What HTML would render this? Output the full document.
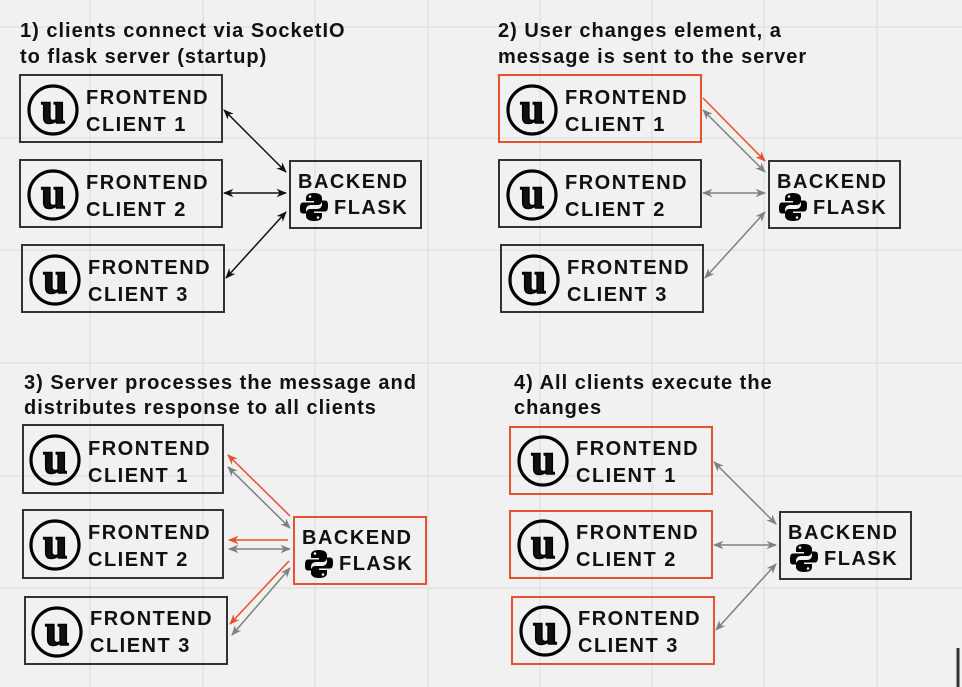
<!DOCTYPE html>
<html><head><meta charset="utf-8"><style>
html,body{margin:0;padding:0;background:#f1f1f1;}
svg{display:block;}
text{font-family:"Liberation Sans",sans-serif;font-weight:bold;}
.t{letter-spacing:1px;}
.b{letter-spacing:1.5px;}
</style></head><body>
<svg width="962" height="687" viewBox="0 0 962 687" xmlns="http://www.w3.org/2000/svg">
<defs>
<marker id="ak" viewBox="0 0 10 10" refX="9" refY="5" markerWidth="7" markerHeight="7" orient="auto-start-reverse"><path d="M0,1 L10,5 L0,9 L3,5z" fill="#111"/></marker>
<marker id="ag" viewBox="0 0 10 10" refX="9" refY="5" markerWidth="7" markerHeight="7" orient="auto-start-reverse"><path d="M0,1 L10,5 L0,9 L3,5z" fill="#808080"/></marker>
<marker id="ar" viewBox="0 0 10 10" refX="9" refY="5" markerWidth="7" markerHeight="7" orient="auto-start-reverse"><path d="M0,1 L10,5 L0,9 L3,5z" fill="#e8502e"/></marker>
<g id="ue">
<circle cx="0" cy="0" r="24" fill="none" stroke="#000" stroke-width="3.2"/>
<text x="1" y="13" text-anchor="middle" font-size="44" stroke="#000" stroke-width="1.5" style="font-family:'Liberation Serif',serif">u</text>
</g>
<g id="py">
<path d="M14,0 c-6,0 -8,2 -8,5 v3 h8 v1.5 H3 c-3,0 -3,4 -3,6 s0,5 3,5 h3 v-3.5 c0,-3 2,-5 5,-5 h7 c2,0 4,-2 4,-4 V5 c0,-3 -3,-5 -8,-5z" fill="#000"/>
<path d="M14,0 c-6,0 -8,2 -8,5 v3 h8 v1.5 H3 c-3,0 -3,4 -3,6 s0,5 3,5 h3 v-3.5 c0,-3 2,-5 5,-5 h7 c2,0 4,-2 4,-4 V5 c0,-3 -3,-5 -8,-5z" fill="#000" transform="rotate(180 14 14)"/>
<circle cx="10" cy="3.5" r="1.3" fill="#f1f1f1"/><circle cx="18" cy="24.5" r="1.3" fill="#f1f1f1"/>
</g>
</defs>
<g stroke="#dcdcdc" stroke-width="1">
<line x1="90" y1="0" x2="90" y2="687"/><line x1="203" y1="0" x2="203" y2="687"/><line x1="315" y1="0" x2="315" y2="687"/><line x1="428" y1="0" x2="428" y2="687"/><line x1="540" y1="0" x2="540" y2="687"/><line x1="652" y1="0" x2="652" y2="687"/><line x1="764" y1="0" x2="764" y2="687"/><line x1="877" y1="0" x2="877" y2="687"/>
<line x1="0" y1="27" x2="962" y2="27"/><line x1="0" y1="138" x2="962" y2="138"/><line x1="0" y1="250" x2="962" y2="250"/><line x1="0" y1="363" x2="962" y2="363"/><line x1="0" y1="476" x2="962" y2="476"/><line x1="0" y1="588" x2="962" y2="588"/>
</g>
<line x1="958" y1="648" x2="958" y2="687" stroke="#333" stroke-width="3"/>

<g font-size="20" fill="#111" class="t">
<text x="20" y="37">1) clients connect via SocketIO</text><text x="20" y="63">to flask server (startup)</text>
<text x="498" y="37">2) User changes element, a</text><text x="498" y="63">message is sent to the server</text>
<text x="24" y="389">3) Server processes the message and</text><text x="24" y="414">distributes response to all clients</text>
<text x="514" y="389">4) All clients execute the</text><text x="514" y="414">changes</text>
</g>

<g font-size="20" fill="#111" stroke-width="2" class="b">
<rect x="20" y="75" width="202" height="67" fill="none" stroke="#333"/><use href="#ue" x="53" y="110"/><text x="86" y="104">FRONTEND</text><text x="86" y="131">CLIENT 1</text>
<rect x="20" y="160" width="202" height="67" fill="none" stroke="#333"/><use href="#ue" x="53" y="195"/><text x="86" y="189">FRONTEND</text><text x="86" y="216">CLIENT 2</text>
<rect x="22" y="245" width="202" height="67" fill="none" stroke="#333"/><use href="#ue" x="55" y="280"/><text x="88" y="274">FRONTEND</text><text x="88" y="301">CLIENT 3</text>
<rect x="290" y="161" width="131" height="67" fill="none" stroke="#333"/><text x="298" y="188">BACKEND</text><use href="#py" x="300" y="193"/><text x="334" y="214">FLASK</text>

<rect x="499" y="75" width="202" height="67" fill="none" stroke="#e8502e"/><use href="#ue" x="532" y="110"/><text x="565" y="104">FRONTEND</text><text x="565" y="131">CLIENT 1</text>
<rect x="499" y="160" width="202" height="67" fill="none" stroke="#333"/><use href="#ue" x="532" y="195"/><text x="565" y="189">FRONTEND</text><text x="565" y="216">CLIENT 2</text>
<rect x="501" y="245" width="202" height="67" fill="none" stroke="#333"/><use href="#ue" x="534" y="280"/><text x="567" y="274">FRONTEND</text><text x="567" y="301">CLIENT 3</text>
<rect x="769" y="161" width="131" height="67" fill="none" stroke="#333"/><text x="777" y="188">BACKEND</text><use href="#py" x="779" y="193"/><text x="813" y="214">FLASK</text>

<rect x="23" y="425" width="200" height="68" fill="none" stroke="#333"/><use href="#ue" x="55" y="460"/><text x="88" y="455">FRONTEND</text><text x="88" y="482">CLIENT 1</text>
<rect x="23" y="510" width="200" height="68" fill="none" stroke="#333"/><use href="#ue" x="55" y="545"/><text x="88" y="539">FRONTEND</text><text x="88" y="566">CLIENT 2</text>
<rect x="25" y="597" width="202" height="67" fill="none" stroke="#333"/><use href="#ue" x="57" y="632"/><text x="90" y="625">FRONTEND</text><text x="90" y="652">CLIENT 3</text>
<rect x="294" y="517" width="132" height="67" fill="none" stroke="#e8502e"/><text x="302" y="544">BACKEND</text><use href="#py" x="305" y="550"/><text x="339" y="570">FLASK</text>

<rect x="510" y="427" width="202" height="67" fill="none" stroke="#e8502e"/><use href="#ue" x="543" y="461"/><text x="576" y="455">FRONTEND</text><text x="576" y="482">CLIENT 1</text>
<rect x="510" y="511" width="202" height="67" fill="none" stroke="#e8502e"/><use href="#ue" x="543" y="545"/><text x="576" y="539">FRONTEND</text><text x="576" y="566">CLIENT 2</text>
<rect x="512" y="597" width="202" height="67" fill="none" stroke="#e8502e"/><use href="#ue" x="545" y="631"/><text x="578" y="625">FRONTEND</text><text x="578" y="652">CLIENT 3</text>
<rect x="780" y="512" width="131" height="67" fill="none" stroke="#333"/><text x="788" y="539">BACKEND</text><use href="#py" x="790" y="544"/><text x="824" y="565">FLASK</text>
</g>

<g stroke-width="1.5" fill="none">
<g stroke="#111" marker-start="url(#ak)" marker-end="url(#ak)">
<line x1="224" y1="110" x2="286" y2="172"/><line x1="224" y1="193" x2="286" y2="193"/><line x1="226" y1="278" x2="286" y2="212"/>
</g>
<g stroke="#808080" marker-start="url(#ag)" marker-end="url(#ag)">
<line x1="703" y1="110" x2="765" y2="172"/><line x1="703" y1="193" x2="765" y2="193"/><line x1="705" y1="278" x2="765" y2="212"/>
<line x1="228" y1="467" x2="290" y2="528"/><line x1="229" y1="549" x2="290" y2="549"/><line x1="232" y1="635" x2="290" y2="568"/>
<line x1="714" y1="462" x2="776" y2="524"/><line x1="714" y1="545" x2="776" y2="545"/><line x1="716" y1="630" x2="776" y2="564"/>
</g>
<g stroke="#e8502e" marker-end="url(#ar)">
<line x1="703" y1="98" x2="765" y2="161"/>
<line x1="290" y1="516" x2="228" y2="455"/><line x1="288" y1="540" x2="229" y2="540"/><line x1="289" y1="561" x2="230" y2="624"/>
</g>
</g>
</svg>
</body></html>
